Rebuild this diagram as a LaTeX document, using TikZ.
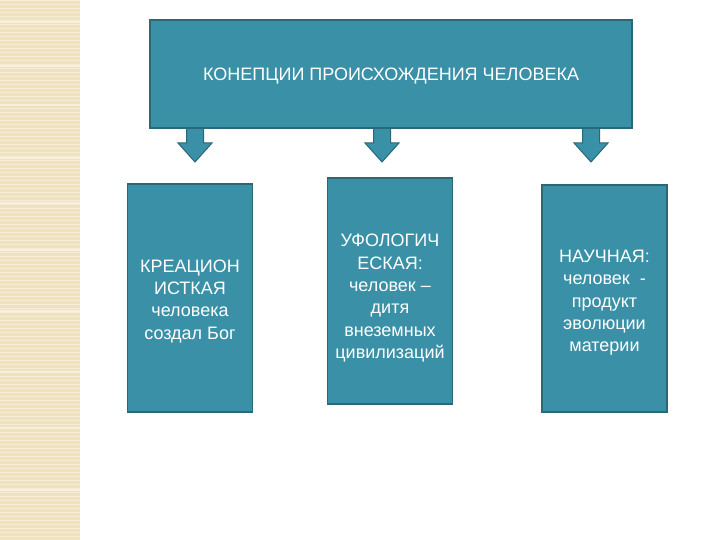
\documentclass[tikz,border=0pt]{standalone}
\usepackage{fontspec}
\setmainfont{Liberation Sans}
\usetikzlibrary{positioning, calc}
\definecolor{cteal}{HTML}{3A90A6}
\definecolor{cedge}{HTML}{2A6878}
\definecolor{cbeige}{HTML}{EFE2C0}
\definecolor{cpale}{HTML}{F6EDD4}
\newcommand{\dropby}[1]{\rule{0pt}{#1}}% taller first line, text sits lower
\tikzset{
  every picture/.style={line width=1.3pt},
  box/.style={draw=cedge, fill=cteal, text=white, align=center, inner sep=4pt},
  topbox/.style={box, minimum width=482pt, minimum height=108pt, font=\fontsize{18}{22}\selectfont},
  sidebox/.style={box, minimum width=125pt, font=\fontsize{18}{22.3}\selectfont},
  blockarrow/.style={draw=cedge, fill=cteal, line width=1pt, line join=miter},
}
\begin{document}
\begin{tikzpicture}[x=1pt, y=-1pt]
  \useasboundingbox (0,0) rectangle (720,540);
  % textured strip on the left
  \fill[cbeige] (0,0) rectangle (80,540);
  \foreach \y in {0,4,...,540} {
    \draw[cpale, line width=0.8pt] (0,\y) -- (80,\y);
  }
  \foreach \y in {22,66,105,158,203,250,311,372,428,490} {
    \draw[white!50!cbeige, line width=1.4pt] (0,\y) -- (80,\y);
  }
  \newcommand{\dnarrow}[1]{% x of the arrow
    \draw[blockarrow, shift={(#1,120)}] (-8.5,0) -- (-8.5,23) -- (-17,23) -- (0,42)
      -- (17,23) -- (8.5,23) -- (8.5,0);
  }
  \dnarrow{195}
  \dnarrow{382}
  \dnarrow{591}
  \node[topbox] (concepts) at (391,74) {\dropby{17pt}КОНЕПЦИИ ПРОИСХОЖДЕНИЯ ЧЕЛОВЕКА};
  \node[sidebox, minimum height=228pt] (creation) at (190,298)
    {\dropby{19pt}КРЕАЦИОН\\ИСТКАЯ\\человека\\создал Бог};
  \node[sidebox, minimum height=226pt] (ufology) at (390,291)
    {\dropby{27pt}УФОЛОГИЧ\\ЕСКАЯ:\\человек --\\дитя\\внеземных\\цивилизаций};
  \node[sidebox, minimum height=227pt] (science) at (604.5,298.5)
    {\dropby{21pt}НАУЧНАЯ:\\человек\ \ -\\продукт\\эволюции\\материи};
\end{tikzpicture}
\end{document}
